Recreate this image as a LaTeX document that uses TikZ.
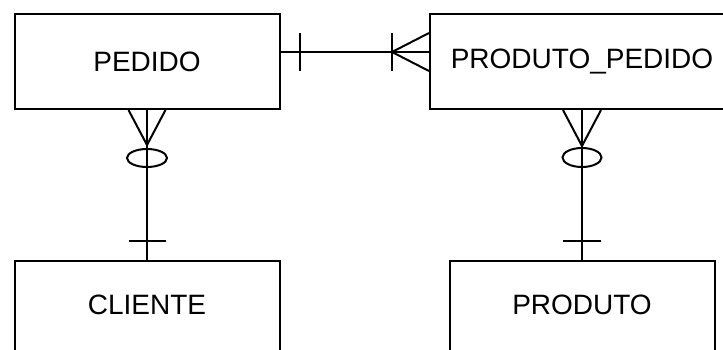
\documentclass[tikz,border=0pt]{standalone}
\usepackage{fontspec}
\setmainfont{Liberation Sans}
\begin{document}
\begin{tikzpicture}[x=1pt,y=-1pt,
  entity/.style={draw, rectangle, line width=2pt, font=\fontsize{28}{30}\selectfont,
    minimum width=265pt, minimum height=95pt, inner sep=0pt},
  conn/.style={line width=2pt}]
\useasboundingbox (0,0) rectangle (723,349);
\clip (0,0) rectangle (723,349);
\node[entity] (pedido) at (147,61.5) {PEDIDO};
\node[entity, minimum width=304pt] (pp) at (582,61.5) {PRODUTO\_PEDIDO\hspace{12pt}};
\node[entity, minimum height=100pt, text depth=12pt] (cliente) at (147,311) {CLIENTE};
\node[entity, minimum height=100pt, text depth=12pt] (produto) at (582,311) {PRODUTO};
% PEDIDO -- PRODUTO_PEDIDO
\draw[conn] (pedido.east |- 0,52) coordinate (h1) -- (pp.west |- 0,52) coordinate (h2);
\draw[conn] ([shift={(19,-19)}]h1) -- ([shift={(19,19)}]h1);
\draw[conn] ([shift={(-37,-19)}]h2) -- ([shift={(-37,19)}]h2);
\draw[conn] ([shift={(0,-19)}]h2) -- ([xshift=-37pt]h2) -- ([shift={(0,19)}]h2);
% PEDIDO -- CLIENTE
\draw[conn] (pedido.south) -- (cliente.north);
\draw[conn] ([shift={(-18.5,0)}]pedido.south) -- ([shift={(0,35)}]pedido.south) -- ([shift={(18.5,0)}]pedido.south);
\draw[conn] ([shift={(0,48)}]pedido.south) ellipse [x radius=20pt, y radius=9pt];
\draw[conn] ([shift={(-18.5,-19)}]cliente.north) -- ([shift={(18.5,-19)}]cliente.north);
% PRODUTO_PEDIDO -- PRODUTO
\draw[conn] (pp.south) -- (produto.north);
\draw[conn] ([shift={(-19,0)}]pp.south) -- ([shift={(0,36)}]pp.south) -- ([shift={(19,0)}]pp.south);
\draw[conn] ([shift={(0,47.5)}]pp.south) ellipse [x radius=19.5pt, y radius=9.5pt];
\draw[conn] ([shift={(-19,-19)}]produto.north) -- ([shift={(19,-19)}]produto.north);
\end{tikzpicture}
\end{document}
